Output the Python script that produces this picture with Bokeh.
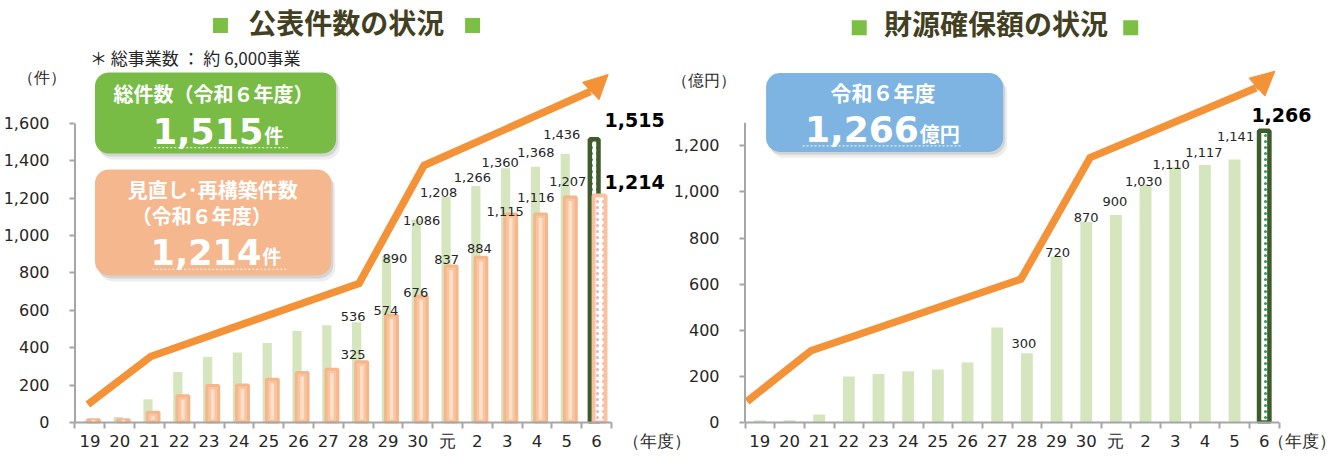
from bokeh.plotting import figure
from bokeh.models import (Range1d, FixedTicker, BoxAnnotation, Label, Arrow,
                          NormalHead)
from bokeh.layouts import row
from bokeh.embed import file_html
from bokeh.resources import INLINE
from bokeh.core.properties import value

# ---------------- data ----------------
years = ["19", "20", "21", "22", "23", "24", "25", "26", "27", "28",
         "29", "30", "元", "2", "3", "4", "5", "6"]
total_cases = [10, 30, 125, 270, 350, 375, 425, 490, 520, 536,
               890, 1086, 1208, 1266, 1360, 1368, 1436, 1515]
review_cases = [15, 15, 55, 143, 198, 200, 232, 268, 285, 325,
                574, 676, 837, 884, 1115, 1116, 1207, 1214]
funds = [10, 10, 35, 200, 210, 222, 230, 260, 412, 300,
         720, 870, 900, 1030, 1110, 1117, 1141, 1266]
labeled_years = ["28", "29", "30", "元", "2", "3", "4", "5"]

# decorative trend arrows (position in year units, value)
trend_cases_pos = [-0.07, 2.04, 9.03, 11.21, 16.79]
trend_cases_val = [96, 353, 744, 1375, 1771]
trend_cases_tip = [17.39, 1862]
trend_funds_pos = [-0.43, 1.72, 8.8, 11.13, 16.72]
trend_funds_val = [91, 311, 622, 1149, 1451]
trend_funds_tip = [17.36, 1524]

cases_ticks = [0, 200, 400, 600, 800, 1000, 1200, 1400, 1600]
funds_ticks = [0, 200, 400, 600, 800, 1000, 1200]
cases_unit, funds_unit, year_unit = "（件）", "（億円）", "（年度）"

# label nudges (pixels)
tot_dx = [-5, 7, 4, -9, -5, -7, -1, -5]
tot_dy = [6, -2, -1, 4, 8, 6, 14, 20]
rev_dx = [-5, -2, -2, -1, 2, -2, -1, 1]
rev_dy = [7, 5, 4, 7, 9, 3, 16, 15]
fund_dx = [-3, 1, 0, -1, -2, -4, -1, 1]
fund_dy = [10, 4, 4.5, 13.6, 4, 2, 13, 23]

ORANGE = "#F39237"
LGREEN = "#D5E6BF"
DGREEN = "#3E5C2B"
AXIS = "#A6A6A6"
TXT = "#262626"
TITLE = "#433F22"
JP = "Noto Sans CJK JP"
NUM = "DejaVu Sans"
PAD = "\u2002\u2002"


def base_fig(width, height, border_left, border_bottom, ppx, ppy, yticks,
             ybound, yunit_pos, yunit, xunit_pos):
    fw = width - border_left
    x0 = -0.5 - 1.5 / ppx
    y0 = -1.0 / ppy
    p = figure(width=width, height=height,
               x_range=Range1d(x0, x0 + fw / ppx),
               y_range=Range1d(y0, y0 + (height - border_bottom) / ppy),
               output_backend="svg", toolbar_location=None,
               min_border_left=border_left, min_border_right=0,
               min_border_top=0, min_border_bottom=border_bottom)
    p.outline_line_color = None
    p.grid.visible = False
    p.background_fill_color = None
    p.border_fill_color = None
    n = len(years)
    xa = p.xaxis[0]
    xa.ticker = FixedTicker(ticks=list(range(n)) + [xunit_pos],
                            minor_ticks=[i - 0.5 for i in range(n + 1)])
    ov = {i: y for i, y in enumerate(years)}
    ov[xunit_pos] = year_unit
    xa.major_label_overrides = ov
    xa.axis_line_color = None
    xa.major_tick_out = 0
    xa.major_tick_in = 0
    xa.minor_tick_out = 5
    xa.minor_tick_in = 1
    xa.minor_tick_line_color = AXIS
    xa.minor_tick_line_width = 2
    xa.major_label_standoff = 3
    xa.major_label_text_font = NUM
    xa.major_label_text_font_size = "16.5px"
    xa.major_label_text_color = TXT
    ya = p.yaxis[0]
    ya.ticker = FixedTicker(ticks=yticks + [yunit_pos], minor_ticks=yticks)
    yov = {t: f"{t:,}" + PAD for t in yticks}
    yov[yunit_pos] = yunit
    ya.major_label_overrides = yov
    ya.axis_line_color = None
    ya.major_tick_out = 0
    ya.major_tick_in = 0
    ya.minor_tick_out = 4
    ya.minor_tick_in = 1
    ya.minor_tick_line_color = AXIS
    ya.minor_tick_line_width = 2
    ya.major_label_standoff = 4
    ya.major_label_text_font = NUM
    ya.major_label_text_font_size = "16px"
    ya.major_label_text_color = TXT
    # axis rules drawn only over the data extent
    p.segment(x0=[-0.5, -0.5], y0=[0, 0], x1=[-0.5, n - 0.5], y1=[ybound, 0],
              line_color=AXIS, line_width=2, level="overlay")
    return p


def label(p, x, y, text, size, color=TXT, bold=False, font=JP,
          align="center", baseline="middle"):
    p.add_layout(Label(x=x, y=y, text=text, text_font=font,
                       text_font_size=size, text_color=color,
                       text_font_style="bold" if bold else "normal",
                       text_align=align, text_baseline=baseline))


def card(p, left, right, top, bottom, color, ppx, ppy):
    for dx, dy, a in [(4, 6, 0.07), (2, 3, 0.10)]:
        p.add_layout(BoxAnnotation(left=left + dx / ppx, right=right + dx / ppx,
                                   top=top - dy / ppy, bottom=bottom - dy / ppy,
                                   fill_color="#000000", fill_alpha=a,
                                   line_color=None, border_radius=14))
    p.add_layout(BoxAnnotation(left=left, right=right, top=top, bottom=bottom,
                               fill_color=color, fill_alpha=1.0, line_color=None,
                               border_radius=14))


def underline(p, x0, x1, y, color):
    p.segment(x0=[x0], y0=[y], x1=[x1], y1=[y], line_color=color, line_width=1.3,
              line_dash="2 2", level="overlay")


def value_labels(p, xs, ys, dxs, dys, ppx, ppy):
    p.text(x=[x + dx / ppx for x, dx in zip(xs, dxs)],
           y=[y + dy / ppy for y, dy in zip(ys, dys)],
           text=[f"{v:,}" for v in ys],
           text_font=value(NUM), text_font_size="13px", text_color=TXT,
           text_align="center", text_baseline="middle")


idx = list(range(len(years)))
last = len(years) - 1
lab_idx = [years.index(y) for y in labeled_years]

# ================= LEFT: 公表件数 =================
PX1, PY1 = 29.9, 0.1869
p1 = base_fig(690, 463, 71, 40, PX1, PY1, cases_ticks, 1600, 1846, cases_unit, 19.32)

p1.vbar(x=[i - 0.05 for i in idx[:-1]], top=total_cases[:-1], width=0.31,
        fill_color=LGREEN, line_color=None)
p1.vbar(x=[i + 0.12 for i in idx[:-1]], top=review_cases[:-1], width=0.40,
        fill_color="#F8C5A0", line_color="#F6B68A", line_width=3)
p1.vbar(x=[i + 0.12 for i in idx[:-1]], top=[v - 4 / PY1 for v in review_cases[:-1]],
        bottom=[min(3 / PY1, v) for v in review_cases[:-1]], width=0.12,
        fill_color="#FCE0CC", line_color=None)
# R6 highlighted bars
p1.vbar(x=[last - 0.08], top=[total_cases[last]], width=0.29,
        fill_color="white", line_color=DGREEN, line_width=4.5,
        hatch_pattern="dot", hatch_color="#2E9B62", hatch_scale=6, hatch_weight=2)
p1.vbar(x=[last + 0.10], top=[review_cases[last]], width=0.40,
        fill_color="white", line_color="#F8C2A0", line_width=4,
        hatch_pattern="dot", hatch_color="#E6B2AE", hatch_scale=6, hatch_weight=2)

value_labels(p1, lab_idx, [total_cases[i] for i in lab_idx], tot_dx, tot_dy, PX1, PY1)
value_labels(p1, lab_idx, [review_cases[i] for i in lab_idx], rev_dx, rev_dy, PX1, PY1)

p1.line(trend_cases_pos, trend_cases_val, line_color=ORANGE, line_width=7.5,
        line_join="miter")
p1.add_layout(Arrow(end=NormalHead(size=24, fill_color=ORANGE, line_color=ORANGE),
                    x_start=trend_cases_pos[-1], y_start=trend_cases_val[-1],
                    x_end=trend_cases_tip[0], y_end=trend_cases_tip[1],
                    line_color=ORANGE, line_width=7.5))

p1.text(x=[last + 0.27, last + 0.27],
        y=[total_cases[last] + 19 / PY1, review_cases[last] + 14 / PY1],
        text=[f"{total_cases[last]:,}", f"{review_cases[last]:,}"],
        text_font=value(NUM), text_font_size="19px", text_font_style="bold",
        text_color="black", text_align="left", text_baseline="middle")

# title & notes
p1.scatter(x=[4.38, 12.84], y=[2124, 2124], marker="square", size=15,
           fill_color="#7CBF45", line_color=None)
label(p1, 8.6, 2143, "公表件数の状況", "28px", color=TITLE, bold=True)
label(p1, 0.0, 1953, "＊ 総事業数  ：  約 6,000事業", "17px", align="left")

card(p1, 0.17, 8.26, 1873, 1439, "#78BC45", PX1, PY1)
label(p1, 4.15, 1760, "総件数（令和６年度）", "20px", color="white", bold=True)
label(p1, 5.82, 1562, f"{total_cases[last]:,}", "35px", color="white", bold=True,
      font=NUM, align="right")
label(p1, 5.85, 1543, "件", "19px", color="white", bold=True, align="left")
underline(p1, 2.16, 6.64, 1471, "#E3F0D3")

card(p1, 0.17, 8.1, 1354, 787, "#F5B88E", PX1, PY1)
label(p1, 4.12, 1247, "見直し･再構築件数", "20px", color="white", bold=True)
label(p1, 3.75, 1108, "（令和６年度）", "20px", color="white", bold=True)
label(p1, 5.75, 912, f"{review_cases[last]:,}", "35px", color="white", bold=True,
      font=NUM, align="right")
label(p1, 5.78, 893, "件", "19px", color="white", bold=True, align="left")
underline(p1, 2.09, 6.61, 819, "#FBE6D6")

# ================= RIGHT: 財源確保額 =================
PX2, PY2 = 29.67, 0.2316
p2 = base_fig(667, 463, 75, 38, PX2, PY2, funds_ticks, 1300, 1485, funds_unit, 18.45)
p2.margin = (0, 0, 0, -22)

p2.vbar(x=idx[:-1], top=funds[:-1], width=0.40, fill_color=LGREEN, line_color=None)
p2.vbar(x=[last], top=[funds[last]], width=0.35,
        fill_color="white", line_color=DGREEN, line_width=4.5,
        hatch_pattern="dot", hatch_color="#2E9B62", hatch_scale=6, hatch_weight=2)
value_labels(p2, lab_idx, [funds[i] for i in lab_idx], fund_dx, fund_dy, PX2, PY2)

p2.line(trend_funds_pos, trend_funds_val, line_color=ORANGE, line_width=7.5,
        line_join="miter")
p2.add_layout(Arrow(end=NormalHead(size=24, fill_color=ORANGE, line_color=ORANGE),
                    x_start=trend_funds_pos[-1], y_start=trend_funds_val[-1],
                    x_end=trend_funds_tip[0], y_end=trend_funds_tip[1],
                    line_color=ORANGE, line_width=7.5))

p2.text(x=[last + 0.58], y=[funds[last] + 16 / PY2], text=[f"{funds[last]:,}"],
        text_font=value(NUM), text_font_size="19px", text_font_style="bold",
        text_color="black", text_align="center", text_baseline="middle")

p2.scatter(x=[3.35, 12.5], y=[1712, 1712], marker="square", size=15,
           fill_color="#7CBF45", line_color=None)
label(p2, 7.96, 1733, "財源確保額の状況", "28px", color=TITLE, bold=True)

card(p2, 0.21, 8.2, 1516, 1174, "#7DB4E2", PX2, PY2)
label(p2, 4.15, 1433, "令和６年度", "21px", color="white", bold=True)
label(p2, 5.36, 1272, f"{funds[last]:,}", "36px", color="white", bold=True,
      font=NUM, align="right")
label(p2, 5.39, 1253, "億円", "20px", color="white", bold=True, align="left")
underline(p2, 1.44, 6.83, 1200, "#E3EEF8")

layout = row(p1, p2)
open("out.html", "w").write(file_html(layout, INLINE))
